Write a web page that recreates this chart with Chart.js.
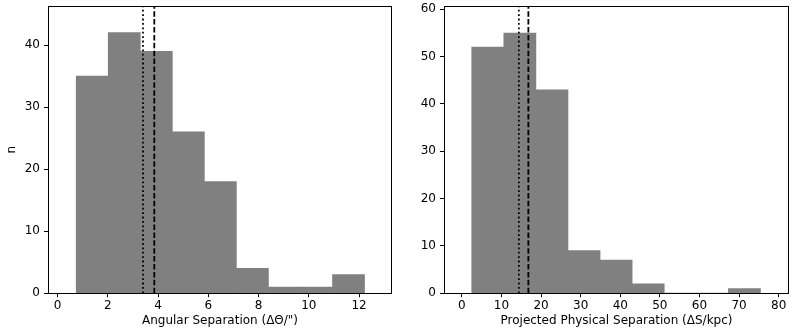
<!DOCTYPE html>
<html>
<head>
<meta charset="utf-8">
<script src="https://cdn.jsdelivr.net/npm/chart.js@4/dist/chart.umd.min.js"></script>
<style>
  html,body{margin:0;padding:0;background:#fff;}
  #wrap{position:relative;width:797px;height:332px;}
  canvas{position:absolute;top:0;}
  #c1{left:0;} #c2{left:400px;}
</style>
</head>
<body>
<div id="wrap">
  <canvas id="c1" width="400" height="332"></canvas>
  <canvas id="c2" width="397" height="332"></canvas>
</div>
<script>
// ---- Left panel: angular separation ----
const angEdges = [0.74, 2.02, 3.29, 4.57, 5.84, 7.12, 8.39, 9.67, 10.94, 12.22];
const angCounts = [35, 42, 39, 26, 18, 4, 1, 1, 3];
const angMedian = 3.40;   // dotted line
const angMean = 3.85;     // dashed line
const angXTicks = [0, 2, 4, 6, 8, 10, 12];
const angYTicks = [0, 10, 20, 30, 40];

// ---- Right panel: projected physical separation ----
const physEdges = [2.5, 10.6, 18.7, 26.8, 34.9, 43.0, 51.1, 59.2, 67.3, 75.4];
const physCounts = [52, 55, 43, 9, 7, 2, 0, 0, 1];
const physMedian = 14.4;  // dotted line
const physMean = 16.8;    // dashed line
const physXTicks = [0, 10, 20, 30, 40, 50, 60, 70, 80];
const physYTicks = [0, 10, 20, 30, 40, 50, 60];

const FONT = {family: "'DejaVu Sans', sans-serif", size: 12};

const frame = {
  id: 'frame',
  afterDatasetsDraw(chart) {
    const a = chart.chartArea, ctx = chart.ctx;
    ctx.save();
    ctx.strokeStyle = '#000';
    ctx.lineWidth = 1;
    ctx.strokeRect(Math.round(a.left) + 0.5, Math.round(a.top) + 0.5,
                   Math.round(a.right - a.left) - 1, Math.round(a.bottom - a.top));
    ctx.restore();
  }
};

function makeHist(id, edges, counts, med, mean, xTicks, yTicks, xr, yMax, xTitle, yTitle, yWidth, padRight) {
  const bars = counts.map((c, i) => ({x: (edges[i] + edges[i + 1]) / 2, y: c}));
  const vline = (v) => [{x: v, y: 0}, {x: v, y: yMax}];
  new Chart(document.getElementById(id), {
    type: 'bar',
    data: {
      datasets: [
        {type: 'line', data: vline(med), borderColor: '#000', borderWidth: 1.8,
         borderDash: [1.8, 2.6], pointRadius: 0, pointHitRadius: 0, order: 0},
        {type: 'line', data: vline(mean), borderColor: '#000', borderWidth: 1.8,
         borderDash: [5.5, 2.4], pointRadius: 0, pointHitRadius: 0, order: 0},
        {type: 'bar', data: bars, backgroundColor: '#808080', borderWidth: 0,
         barPercentage: 1, categoryPercentage: 1, grouped: false, order: 1}
      ]
    },
    options: {
      responsive: false, animation: false, devicePixelRatio: 1,
      layout: {autoPadding: false, padding: {top: 6, right: padRight, left: 0, bottom: 4}},
      plugins: {legend: {display: false}, tooltip: {enabled: false}},
      scales: {
        x: {
          type: 'linear', min: xr[0], max: xr[1], offset: false,
          afterBuildTicks: (s) => { s.ticks = xTicks.map(v => ({value: v})); },
          grid: {drawOnChartArea: false, offset: false, tickLength: 4, tickColor: '#000', color: '#000'},
          border: {display: false},
          ticks: {font: FONT, color: '#000', padding: 1, maxRotation: 0, autoSkip: false},
          title: {display: true, text: xTitle, font: FONT, color: '#000', padding: {top: 0, bottom: 0}}
        },
        y: {
          min: 0, max: yMax,
          afterBuildTicks: (s) => { s.ticks = yTicks.map(v => ({value: v})); },
          afterFit: (s) => { s.width = yWidth; s.paddingTop = 0; s.paddingBottom = 0; },
          grid: {drawOnChartArea: false, tickLength: 4, tickColor: '#000', color: '#000'},
          border: {display: false},
          ticks: {font: FONT, color: '#000', padding: 4, autoSkip: false},
          title: {display: yTitle !== '', text: yTitle, font: FONT, color: '#000', padding: {top: 5, bottom: 0}}
        }
      }
    },
    plugins: [frame]
  });
}

makeHist('c1', angEdges, angCounts, angMedian, angMean, angXTicks, angYTicks,
         [-0.38, 13.31], 46.3, 'Angular Separation (\u0394\u0398/")', 'n', 48, 8);
makeHist('c2', physEdges, physCounts, physMedian, physMean, physXTicks, physYTicks,
         [-4.5, 82.6], 60.7, 'Projected Physical Separation (\u0394S/kpc)', '', 44, 8);
</script>
</body>
</html>
